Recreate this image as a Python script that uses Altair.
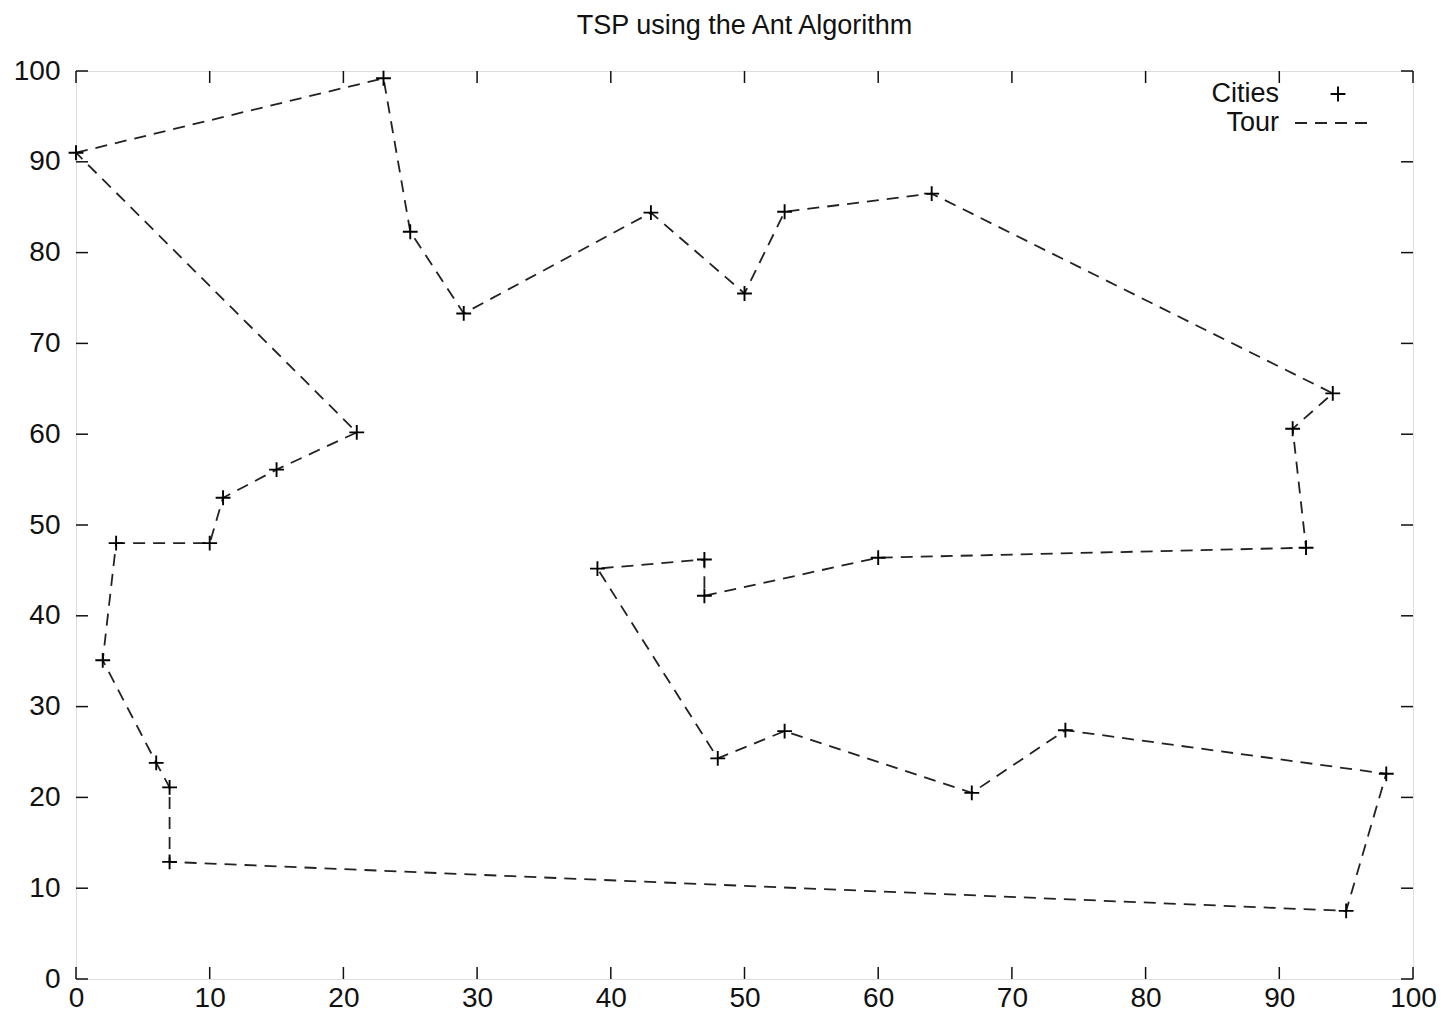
import altair as alt
import pandas as pd

# Cities in tour order (x, y)
city_x = [0, 23, 25, 29, 43, 50, 53, 64, 94, 91, 92, 60, 47, 47, 39,
          48, 53, 67, 74, 98, 95, 7, 7, 6, 2, 3, 10, 11, 15, 21]
city_y = [91, 99.2, 82.3, 73.3, 84.4, 75.5, 84.5, 86.5, 64.5, 60.6, 47.5, 46.4, 42.2, 46.2, 45.2,
          24.3, 27.3, 20.5, 27.4, 22.6, 7.5, 12.9, 21.1, 23.8, 35.1, 48, 48, 53, 56.1, 60.2]
tick_values = [0, 10, 20, 30, 40, 50, 60, 70, 80, 90, 100]
legend_labels = ["Cities", "Tour"]

W, H = 1337, 908
FONT = "Liberation Sans"
TICK = 12

cities = pd.DataFrame({"x": city_x, "y": city_y})
tour = pd.DataFrame({
    "x": city_x + [city_x[0]],
    "y": city_y + [city_y[0]],
    "order": list(range(len(city_x) + 1)),
})
ticks = pd.DataFrame({"x": tick_values, "y": tick_values})

xaxis = alt.Axis(values=tick_values, title=None, domain=False, ticks=False, grid=False,
                 labelFontSize=28, labelFont=FONT, labelColor="#111", labelPadding=5,
                 labelFlush=False, labelOverlap=False)
yaxis = alt.Axis(values=tick_values, title=None, domain=False, ticks=False, grid=False,
                 labelFontSize=28, labelFont=FONT, labelColor="#111", labelPadding=16,
                 labelFlush=False, labelOverlap=False)
X = alt.X("x:Q", scale=alt.Scale(domain=[0, 100], nice=False, zero=False), axis=xaxis)
Y = alt.Y("y:Q", scale=alt.Scale(domain=[0, 100], nice=False, zero=False), axis=yaxis)

plus = "M-1,0L1,0M0,-1L0,1"
DASH = [12, 8]

line = alt.Chart(tour).mark_line(strokeDash=DASH, strokeWidth=1.8, color="#222").encode(
    x=X, y=Y, order="order:Q")
pts = alt.Chart(cities).mark_point(shape=plus, size=220, strokeWidth=1.9, color="#000",
                                   filled=False, opacity=1).encode(x=X, y=Y)

tick_style = dict(color="#111", strokeWidth=1.5)
t_bottom = alt.Chart(ticks).mark_rule(**tick_style).encode(
    x=X, y=alt.value(H), y2=alt.value(H - TICK))
t_top = alt.Chart(ticks).mark_rule(**tick_style).encode(
    x=X, y=alt.value(0), y2=alt.value(TICK))
t_left = alt.Chart(ticks).mark_rule(**tick_style).encode(
    y=Y, x=alt.value(0), x2=alt.value(TICK))
t_right = alt.Chart(ticks).mark_rule(**tick_style).encode(
    y=Y, x=alt.value(W), x2=alt.value(W - TICK))

# Legend (top-right, gnuplot style: label then sample)
leg_text1 = alt.Chart(pd.DataFrame({"label": [legend_labels[0]]})).mark_text(
    align="right", baseline="middle", font=FONT, fontSize=27, color="#111").encode(
    text="label:N", x=alt.value(1203), y=alt.value(23))
leg_text2 = alt.Chart(pd.DataFrame({"label": [legend_labels[1]]})).mark_text(
    align="right", baseline="middle", font=FONT, fontSize=27, color="#111").encode(
    text="label:N", x=alt.value(1203), y=alt.value(52))
leg_pt = alt.Chart(pd.DataFrame({"label": [legend_labels[0]]})).mark_point(
    shape=plus, size=220, strokeWidth=1.9, color="#000", filled=False, opacity=1).encode(
    x=alt.value(1262), y=alt.value(23))
leg_line = alt.Chart(pd.DataFrame({"label": [legend_labels[1]]})).mark_rule(
    strokeDash=DASH, strokeWidth=1.8, color="#222").encode(
    x=alt.value(1219), x2=alt.value(1296), y=alt.value(52))

chart = alt.layer(line, pts, t_bottom, t_top, t_left, t_right,
                  leg_text1, leg_text2, leg_pt, leg_line).properties(
    width=W, height=H,
    padding={"left": 5, "top": 4, "right": 5, "bottom": 0},
    title=alt.TitleParams("TSP using the Ant Algorithm", fontSize=27, fontWeight="normal",
                          font=FONT, color="#111", offset=17, anchor="middle"),
).configure_view(stroke="#111", strokeWidth=1.7).configure(background="white")

chart.save("out.html", embed_options={"renderer": "svg", "actions": False})
